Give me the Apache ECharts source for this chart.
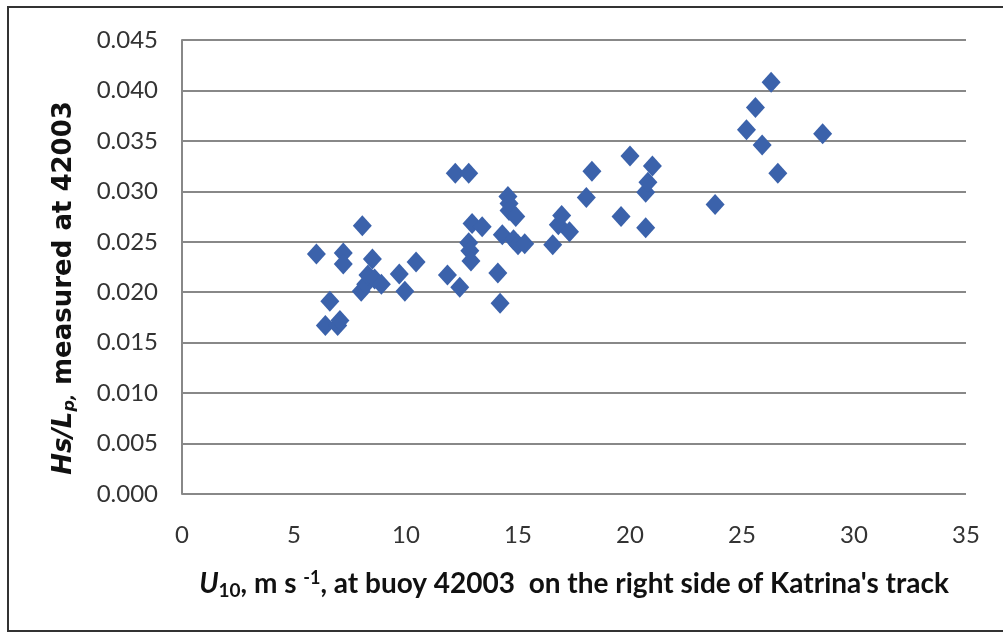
<!DOCTYPE html>
<html>
<head>
<meta charset="utf-8">
<script src="https://cdn.jsdelivr.net/npm/echarts@6/dist/echarts.min.js"></script>
<style>
  html, body { margin: 0; padding: 0; background: #fff; }
  #chartBox { width: 1003px; height: 633px; }
</style>
</head>
<body>
<div id="chartBox"></div>
<script>
// wind speed U10 (m/s) at buoy 42003
var windSpeed = [6.0, 6.4, 6.6, 6.95, 7.05, 7.2, 7.2, 8.05, 8.0, 8.2, 8.3, 8.5, 8.6, 8.9, 9.7, 9.95, 10.45,
  11.85, 12.2, 12.8, 12.4, 12.8, 12.85, 12.9, 12.95, 13.4, 14.1, 14.2, 14.3, 14.55, 14.6, 14.6, 14.9, 14.8,
  15.0, 15.3, 16.55, 16.8, 16.95, 17.3, 18.05, 18.3, 19.6, 20.0, 20.7, 20.7, 20.8, 21.0, 23.8, 25.2, 25.6,
  25.9, 26.3, 26.6, 28.6];
// wave steepness Hs/Lp
var steepness = [0.0238, 0.0167, 0.0191, 0.0167, 0.0172, 0.0239, 0.0228, 0.0266, 0.0201, 0.0208, 0.0217, 0.0233, 0.0213, 0.0208, 0.0218, 0.0201, 0.0230,
  0.0217, 0.0318, 0.0318, 0.0205, 0.0249, 0.0241, 0.0231, 0.0268, 0.0265, 0.0219, 0.0189, 0.0257, 0.0295, 0.0288, 0.0281, 0.0275, 0.0252,
  0.0247, 0.0248, 0.0247, 0.0267, 0.0276, 0.0260, 0.0294, 0.0320, 0.0275, 0.0335, 0.0264, 0.0299, 0.0309, 0.0325, 0.0287, 0.0361, 0.0383,
  0.0346, 0.0408, 0.0318, 0.0357];
var xTicks = [0, 5, 10, 15, 20, 25, 30, 35];
var yTicks = ['0.000', '0.005', '0.010', '0.015', '0.020', '0.025', '0.030', '0.035', '0.040', '0.045'];

var points = [];
for (var i = 0; i < windSpeed.length; i++) {
  points.push([windSpeed[i], steepness[i]]);
}

var chart = echarts.init(document.getElementById('chartBox'));
var option = {
  backgroundColor: '#fff',
  animation: false,
  graphic: [{
    type: 'rect',
    shape: { x: 8, y: 7, width: 1000, height: 624 },
    style: { fill: 'none', stroke: '#333', lineWidth: 2 }
  }],
  grid: { left: 182, right: 37, top: 40, bottom: 139 },
  xAxis: {
    type: 'value',
    min: 0, max: 35, interval: 5,
    axisLine: { show: false },
    axisTick: { show: false },
    splitLine: { show: false },
    axisLabel: {
      margin: 29, fontSize: 24, color: '#333', fontFamily: 'Lato',
      formatter: function (v) { return xTicks.indexOf(v) >= 0 ? String(v) : ''; }
    },
    name: '{i|U}{sub|10}{b|, m s }{sup|-1}{b|, at buoy 42003  on the right side of Katrina\'s track}',
    nameLocation: 'middle',
    nameGap: 74,
    nameTextStyle: {
      rich: {
        i: { fontSize: 28, fontWeight: 'bold', fontStyle: 'italic', fontFamily: 'Lato', color: '#111' },
        sub: { fontSize: 19, fontWeight: 'bold', fontFamily: 'Lato', color: '#111', padding: [13, 0, 0, 0] },
        sup: { fontSize: 18, fontWeight: 'bold', fontFamily: 'Lato', color: '#111', padding: [0, 0, 11, 0] },
        b: { fontSize: 28, fontWeight: 'bold', fontFamily: 'Lato', color: '#111' }
      }
    }
  },
  yAxis: {
    type: 'value',
    min: 0, max: 0.045, interval: 0.005,
    axisLine: { show: true, lineStyle: { color: '#888', width: 2 } },
    axisTick: { show: false },
    splitLine: { show: true, lineStyle: { color: '#888', width: 2 } },
    axisLabel: {
      margin: 24, fontSize: 24, color: '#333', fontFamily: 'Lato',
      formatter: function (v) { return yTicks[Math.round(v / 0.005)]; }
    },
    name: '{i|Hs/L}{sub|p,}{b| measured at 42003}',
    nameLocation: 'middle',
    nameGap: 104,
    nameTextStyle: {
      padding: [0, 42, 0, 0],
      rich: {
        i: { fontSize: 26, fontWeight: 'bold', fontStyle: 'italic', fontFamily: 'DejaVu Sans', color: '#111' },
        sub: { fontSize: 16, fontWeight: 'bold', fontStyle: 'italic', fontFamily: 'DejaVu Sans', color: '#111', padding: [12, 0, 0, 0] },
        b: { fontSize: 26, fontWeight: 'bold', fontFamily: 'DejaVu Sans', color: '#111' }
      }
    }
  },
  series: [{
    type: 'scatter',
    symbol: 'diamond',
    symbolSize: [19, 21],
    itemStyle: { color: '#3b62ab', opacity: 1 },
    data: points
  }]
};
chart.setOption(option);
</script>
</body>
</html>
